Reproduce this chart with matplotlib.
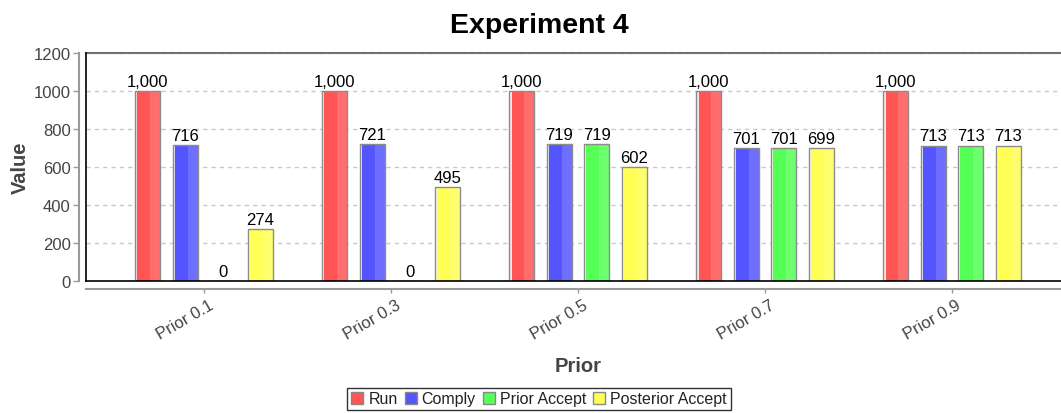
import matplotlib
matplotlib.use("Agg")
import matplotlib.pyplot as plt
import matplotlib.transforms as mtrans
import numpy as np
from matplotlib.patches import Patch

plt.rcParams['font.family'] = ['Liberation Sans', 'DejaVu Sans']

categories = ["Prior 0.1", "Prior 0.3", "Prior 0.5", "Prior 0.7", "Prior 0.9"]
series_names = ["Run", "Comply", "Prior Accept", "Posterior Accept"]
run = [1000, 1000, 1000, 1000, 1000]
comply = [716, 721, 719, 701, 713]
prior_accept = [0, 0, 719, 701, 713]
posterior_accept = [274, 495, 602, 699, 713]
series_values = [run, comply, prior_accept, posterior_accept]
colors = ["#FF5555", "#5555FF", "#55FF55", "#FFFF55"]
light = ["#FF6E6E", "#6E6EFF", "#6EFF6E", "#FFFF6E"]
yticks = [0, 200, 400, 600, 800, 1000, 1200]

W, H = 1061, 414
fig = plt.figure(figsize=(W / 100, H / 100), dpi=100)
left, right, top, bottom = 86, 1070, 54, 282
ax = fig.add_axes([left / W, 1 - bottom / H, (right - left) / W, (bottom - top) / H])

x = np.arange(len(categories))
step = 0.2
width = 0.134
tickc = "#444444"
for i, (name, vals) in enumerate(zip(series_names, series_values)):
    pos = x + (i - 1.5) * step
    ax.bar(pos, vals, width, color=colors[i], linewidth=0, zorder=3)
    # lighter right part for gradient look
    ax.bar(pos + width * 0.3, vals, width * 0.4, color=light[i], linewidth=0, zorder=3.5)
    # thin white highlight stripe at the left edge
    ax.bar(pos - width * 0.44, vals, width * 0.05, color="white", alpha=0.85, linewidth=0, zorder=4)
    ax.bar(pos, vals, width, fill=False, edgecolor="#8C8C8C", linewidth=1, zorder=4.5)
    for p, v in zip(pos, vals):
        ax.annotate(f"{v:,}", (p, v), xytext=(0, 1.5), textcoords="offset points",
                    ha="center", va="bottom", fontsize=12, color="black", zorder=5)

ax.set_ylim(0, 1200)
ax.set_xlim(-0.631, 4.631)
ax.set_yticks(yticks)
ax.set_yticklabels([str(t) for t in yticks])
ax.set_xticks(x)
ax.set_xticklabels(categories)

ax.grid(axis="y", color="#C8C8C8", linestyle=(0, (3, 3)), linewidth=1, zorder=0)
ax.set_axisbelow(True)

ax.spines["left"].set_position(("outward", 5))
ax.spines["left"].set_color("#9A9A9A")
ax.spines["left"].set_linewidth(1.5)
ax.spines["bottom"].set_position(("outward", 6))
ax.spines["bottom"].set_color("#9A9A9A")
ax.spines["bottom"].set_linewidth(1.5)
ax.spines["top"].set_color("#707070")
ax.spines["top"].set_linewidth(1.5)
ax.spines["right"].set_visible(False)

# plot-area frame lines
ax.plot([0, 0], [0, 1], transform=ax.transAxes, color="black", lw=1.2, clip_on=False, zorder=6)
ax.plot([0, 1], [0, 0], transform=ax.transAxes, color="black", lw=1.2, clip_on=False, zorder=6)

ax.tick_params(axis="y", direction="out", length=4, width=1, color="#9A9A9A",
               labelsize=12, labelcolor=tickc, pad=2)
ax.tick_params(axis="x", direction="out", length=3, width=1, color="#9A9A9A",
               labelsize=12, labelcolor=tickc, pad=7.5)
shift = mtrans.ScaledTranslation(8 / 100, 0, fig.dpi_scale_trans)
for lab in ax.get_xticklabels():
    lab.set_rotation(30)
    lab.set_ha("right")
    lab.set_va("center")
    lab.set_rotation_mode("anchor")
    lab.set_transform(lab.get_transform() + shift)

fig.text(539 / W, 1 - 26 / H, "Experiment 4", ha="center", va="center",
         fontsize=20.5, fontweight="bold", color="black")
fig.text(20 / W, 1 - 168 / H, "Value", ha="center", va="center", rotation=90,
         fontsize=14.5, fontweight="bold", color=tickc)
fig.text(578 / W, 1 - 367 / H, "Prior", ha="center", va="center",
         fontsize=14.5, fontweight="bold", color=tickc)

handles = [Patch(facecolor=c, edgecolor="#888888", linewidth=1) for c in colors]
leg = fig.legend(handles, series_names, loc="center", bbox_to_anchor=(539 / W, 1 - 400 / H),
                 ncol=4, fontsize=11.5, frameon=True, fancybox=False, handlelength=0.75,
                 handleheight=0.75, handletextpad=0.3, columnspacing=0.45, borderpad=0.25,
                 borderaxespad=0)
leg.get_frame().set_edgecolor("black")
leg.get_frame().set_linewidth(1)
for t in leg.get_texts():
    t.set_color("#222222")

fig.savefig("out.png", dpi=100)
